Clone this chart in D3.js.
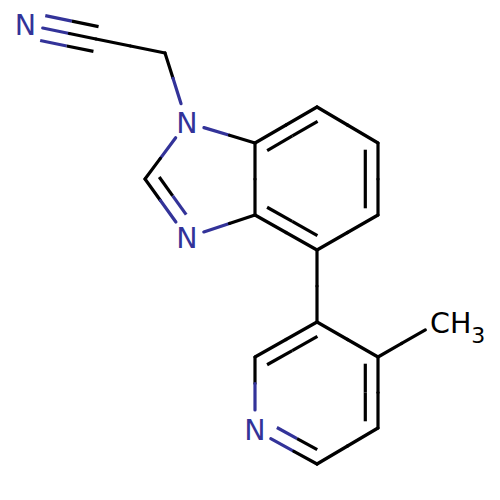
<!DOCTYPE html>
<html>
<head>
<meta charset="utf-8">
<script src="https://cdn.jsdelivr.net/npm/d3@7"></script>
<style>
  body { margin: 0; background: #fff; }
  svg { display: block; }
  text { font-family: "DejaVu Sans", sans-serif; }
</style>
</head>
<body>
<div id="chart"></div>
<script>
"use strict";

// atoms, in percent of the drawing
var atomNames = ["N", "C", "C", "N", "C", "N", "C", "C", "C", "C", "C", "C", "C", "C", "C", "C", "C", "N", "CH3"];
var atomX = [5.1, 19.2, 33, 37.4, 29, 37.4, 51, 51, 63.4, 75.6, 75.6, 63.4, 63.4, 51, 75.6, 75.6, 63.4, 51, 88.2];
var atomY = [4.9, 7.8, 10.6, 24.5, 35.8, 47.5, 43, 28.6, 21.4, 28.6, 43, 50, 64.4, 71.4, 71.4, 85.6, 92.8, 86, 64.2];

// bonds: first atom, second atom, order
var bondA = [0, 1, 2, 3, 4, 5, 6, 3, 7, 8, 9, 10, 11, 11, 12, 13, 17, 16, 15, 14, 14];
var bondB = [1, 2, 3, 4, 5, 6, 7, 7, 8, 9, 10, 11, 6, 12, 13, 17, 16, 15, 14, 12, 18];
var bondOrder = [3, 1, 1, 1, 2, 1, 1, 1, 2, 1, 2, 1, 2, 1, 2, 1, 2, 1, 2, 1, 1];

var rings = [
	[3, 4, 5, 6, 7],
	[6, 7, 8, 9, 10, 11],
	[12, 13, 17, 16, 15, 14]
];

var size = 500;
var bondWidth = 3.2;
var lineGap = 12.7;     // distance of the extra lines of a multiple bond
var innerTrim = 6.7;    // how much shorter the inner line of a ring bond is
var labelRx = 17.5;     // bonds stop at this ellipse round a label
var labelRy = 20;
var nitrogenColor = "#333399";

var x = d3.scaleLinear().domain([0, 100]).range([0, size]);
var y = d3.scaleLinear().domain([0, 100]).range([0, size]);

var svg = d3.select("#chart").append("svg")
	.attr("width", size)
	.attr("height", size);

function atomColor(i) {
	return atomNames[i] == "N" ? nitrogenColor : "#000";
}

function hasLabel(i) {
	return atomNames[i] != "C";
}

// distance from the atom to the edge of its label, along a direction
function labelGap(i, ux, uy) {
	if (!hasLabel(i)) return 0;
	return 1 / Math.sqrt(Math.pow(ux / labelRx, 2) + Math.pow(uy / labelRy, 2));
}

// which way the inner line of a double bond goes
function innerSide(a, b, nx, ny) {
	var ring = rings.find(function(r) { return r.includes(a) && r.includes(b); });
	var cx = d3.mean(ring, function(i) { return x(atomX[i]); });
	var cy = d3.mean(ring, function(i) { return y(atomY[i]); });
	return ((cx - x(atomX[a])) * nx + (cy - y(atomY[a])) * ny) > 0 ? 1 : -1;
}

var segments = [];

// one stroke of a bond, in two halves coloured after its two atoms
function addStroke(a, b, offset, trimA, trimB, kind) {
	var ax = x(atomX[a]), ay = y(atomY[a]);
	var bx = x(atomX[b]), by = y(atomY[b]);
	var len = Math.hypot(bx - ax, by - ay);
	var ux = (bx - ax) / len, uy = (by - ay) / len;
	var nx = -uy, ny = ux;

	var x1 = ax + ux * trimA + nx * offset, y1 = ay + uy * trimA + ny * offset;
	var x2 = bx - ux * trimB + nx * offset, y2 = by - uy * trimB + ny * offset;
	var mx = (x1 + x2) / 2, my = (y1 + y2) / 2;

	segments.push({x1: x1, y1: y1, x2: mx, y2: my, color: atomColor(a), kind: kind});
	segments.push({x1: mx, y1: my, x2: x2, y2: y2, color: atomColor(b), kind: kind});
}

bondA.forEach(function(a, k) {
	var b = bondB[k];
	var ax = x(atomX[a]), ay = y(atomY[a]);
	var bx = x(atomX[b]), by = y(atomY[b]);
	var len = Math.hypot(bx - ax, by - ay);
	var ux = (bx - ax) / len, uy = (by - ay) / len;
	var gapA = labelGap(a, ux, uy);
	var gapB = labelGap(b, ux, uy);

	addStroke(a, b, 0, gapA, gapB, "main");

	if (bondOrder[k] == 2) {
		var side = innerSide(a, b, -uy, ux);
		addStroke(a, b, side * lineGap, Math.max(gapA, innerTrim), Math.max(gapB, innerTrim), "inner");
	} else if (bondOrder[k] == 3) {
		addStroke(a, b, lineGap, gapA, gapB, "inner");
		addStroke(a, b, -lineGap, gapA, gapB, "inner");
	}
});

svg.append("g").selectAll("line")
	.data(segments)
	.enter().append("line")
	.attr("x1", function(d) { return d.x1; })
	.attr("y1", function(d) { return d.y1; })
	.attr("x2", function(d) { return d.x2; })
	.attr("y2", function(d) { return d.y2; })
	.attr("stroke", function(d) { return d.color; })
	.attr("stroke-width", bondWidth)
	.attr("stroke-linecap", function(d) { return d.kind == "main" ? "round" : "butt"; });

// atom labels
var labelled = d3.range(atomNames.length).filter(hasLabel);

svg.append("g").selectAll("text")
	.data(labelled.filter(function(i) { return atomNames[i] == "N"; }))
	.enter().append("text")
	.attr("x", function(i) { return x(atomX[i]); })
	.attr("y", function(i) { return y(atomY[i]) + 10.2; })
	.attr("text-anchor", "middle")
	.attr("font-size", 28.5)
	.attr("fill", function(i) { return atomColor(i); })
	.text(function(i) { return atomNames[i]; });

var methyl = svg.append("g").selectAll("text")
	.data(labelled.filter(function(i) { return atomNames[i] == "CH3"; }))
	.enter().append("text")
	.attr("x", function(i) { return x(atomX[i]) - 11; })
	.attr("y", function(i) { return y(atomY[i]) + 12; })
	.attr("font-size", 28.5)
	.attr("fill", "#000");

methyl.append("tspan").text("CH");
methyl.append("tspan").attr("font-size", 22).attr("dy", 10).text("3");
</script>
</body>
</html>
